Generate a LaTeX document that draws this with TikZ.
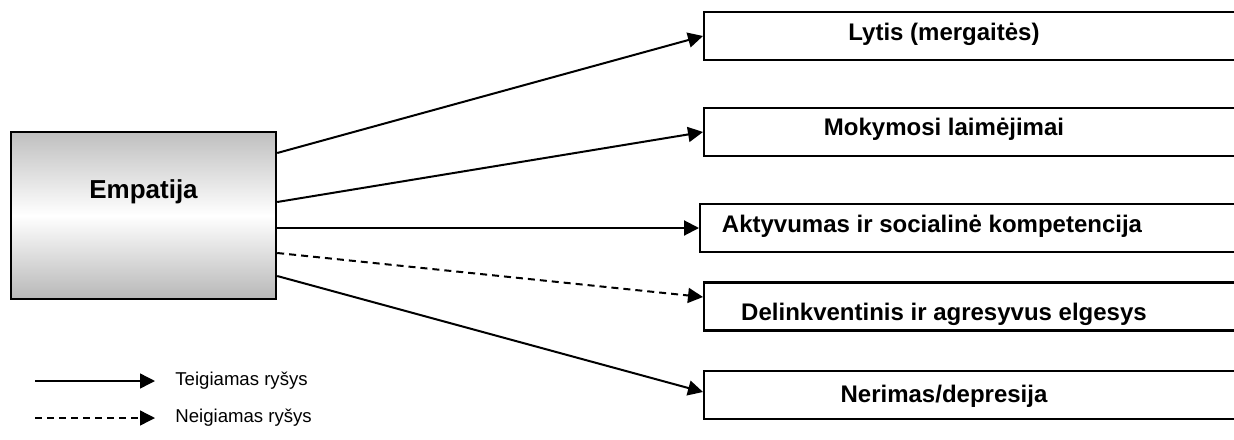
\documentclass[tikz,border=0pt]{standalone}
\usepackage{fontspec}
\setmainfont{Liberation Sans}
\usetikzlibrary{arrows.meta}

\begin{document}
\begin{tikzpicture} [x=0.5pt, y=-0.5pt,
    srcbox/.style={draw, line width=1.2pt, top color=black!25, bottom color=black!28,
      middle color=white, minimum width=132.5pt, minimum height=83.5pt, inner sep=0pt},
    outbox/.style={draw, line width=1.2pt, fill=white, anchor=west,
      minimum width=271pt, minimum height=24pt, inner sep=0pt},
    title/.style={font=\bfseries\fontsize{12}{14}\selectfont, anchor=base, inner sep=0pt},
    legtext/.style={font=\fontsize{9.3}{11}\selectfont, anchor=west, inner sep=0pt},
    link/.style={line width=1pt, -{Triangle[length=7.5pt,width=7.5pt]}},
    neg/.style={link, dash pattern=on 3.5pt off 2.5pt}]
    \useasboundingbox (0,0) rectangle (1234,439);

    % source
    \node[srcbox] (emp) at (143.5,215.5) {};
    \node[title, font=\bfseries\fontsize{13}{15}\selectfont] (emp-t) at (143.5,198) {Empatija};

    % outcomes
    \node[outbox] (lytis) at (703,36) {};
    \node[outbox] (mok) at (703,132) {};
    \node[outbox] (akt) at (699,228) {};
    \node[outbox] (delink) at (703,306.5) {};
    \node[outbox] (ner) at (703,395) {};

    \node[title] (lytis-t) at (944,40) {Lytis (mergaitės)};
    \node[title] (mok-t) at (944,135) {Mokymosi laimėjimai};
    \node[title] (akt-t) at (932,232) {Aktyvumas ir socialinė kompetencija};
    \node[title] (delink-t) at (944,320) {Delinkventinis ir agresyvus elgesys};
    \node[title] (ner-t) at (944,402) {Nerimas/depresija};

    \draw[link] ([yshift=31.25pt]emp.east) -- (lytis.west);
    \draw[link] ([yshift=6.75pt]emp.east) -- (mok.west);
    \draw[link] ([yshift=-6.25pt]emp.east) -- (akt.west);
    \draw[neg] ([yshift=-18.75pt]emp.east) -- ([yshift=4.75pt]delink.west);
    \draw[link] ([yshift=-30.25pt]emp.east) -- ([yshift=1.5pt]ner.west);

    % legend
    \coordinate (pos-start) at (35,381);
    \coordinate (neg-start) at (35,418);
    \node[legtext] (pos) at (175,381) {Teigiamas ryšys};
    \node[legtext] (negl) at (175,418) {Neigiamas ryšys};
    \draw[link, line width=0.7pt, shorten >=10pt] (pos-start) -- (pos.west);
    \draw[neg, line width=0.7pt, shorten >=10pt] (neg-start) -- (negl.west);
\end{tikzpicture}
\end{document}
